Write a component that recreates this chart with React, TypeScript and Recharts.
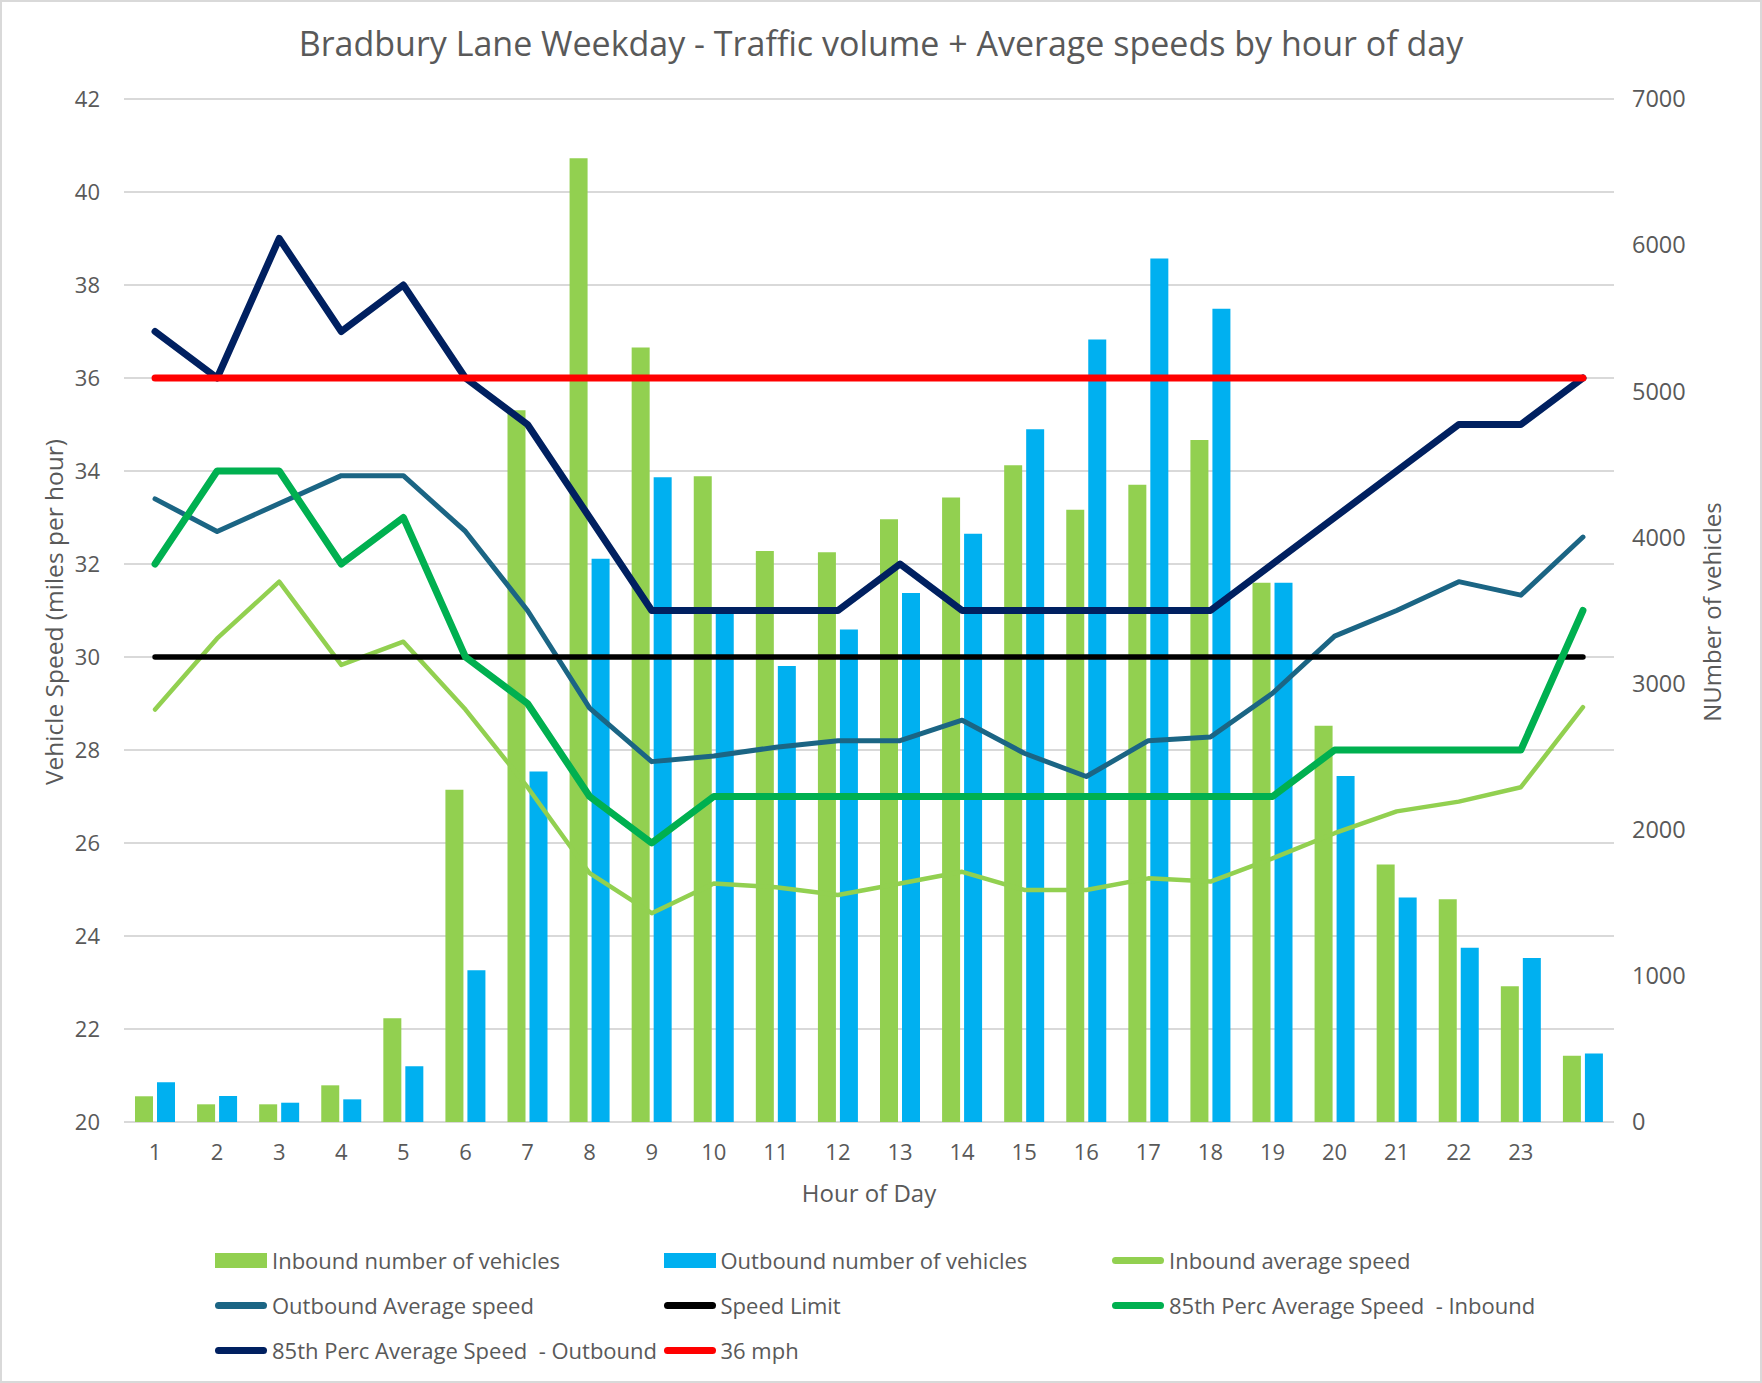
import { ComposedChart, Bar, Line, XAxis, YAxis, CartesianGrid, Label } from "recharts";

const FONT = "'Open Sans', sans-serif";
const TEXT = "#595959";

// hour of day (24th category has no label in the original)
const hours = ["1", "2", "3", "4", "5", "6", "7", "8", "9", "10", "11", "12", "13", "14", "15", "16", "17", "18", "19", "20", "21", "22", "23", ""];

// vehicle counts (right axis)
const inboundVehicles = [176, 121, 121, 251, 710, 2273, 4870, 6594, 5300, 4418, 3907, 3899, 4124, 4274, 4494, 4190, 4360, 4667, 3690, 2712, 1762, 1525, 929, 454];
const outboundVehicles = [272, 178, 132, 155, 381, 1039, 2398, 3854, 4412, 3490, 3121, 3370, 3619, 4025, 4740, 5355, 5908, 5565, 3690, 2367, 1536, 1192, 1123, 468];

// speeds in mph (left axis)
const inboundAvg = [28.87, 30.4, 31.62, 29.83, 30.33, 28.87, 27.2, 25.35, 24.49, 25.13, 25.05, 24.88, 25.13, 25.38, 24.99, 24.99, 25.24, 25.17, 25.67, 26.21, 26.68, 26.89, 27.2, 28.92];
const outboundAvg = [33.4, 32.7, 33.3, 33.9, 33.9, 32.7, 31.0, 28.9, 27.75, 27.87, 28.06, 28.2, 28.2, 28.64, 27.93, 27.43, 28.2, 28.28, 29.22, 30.45, 31.0, 31.62, 31.33, 32.58];
const speedLimit = [30, 30, 30, 30, 30, 30, 30, 30, 30, 30, 30, 30, 30, 30, 30, 30, 30, 30, 30, 30, 30, 30, 30, 30];
const perc85Inbound = [32, 34, 34, 32, 33, 30, 29, 27, 26, 27, 27, 27, 27, 27, 27, 27, 27, 27, 27, 28, 28, 28, 28, 31];
const perc85Outbound = [37, 36, 39, 37, 38, 36, 35, 33, 31, 31, 31, 31, 32, 31, 31, 31, 31, 31, 32, 33, 34, 35, 35, 36];
const mph36 = [36, 36, 36, 36, 36, 36, 36, 36, 36, 36, 36, 36, 36, 36, 36, 36, 36, 36, 36, 36, 36, 36, 36, 36];

const speedTicks = [20, 22, 24, 26, 28, 30, 32, 34, 36, 38, 40, 42];
const vehicleTicks = [0, 1000, 2000, 3000, 4000, 5000, 6000, 7000];

const data = hours.map((hour, i) => ({
  hour,
  inboundVehicles: inboundVehicles[i],
  outboundVehicles: outboundVehicles[i],
  inboundAvg: inboundAvg[i],
  outboundAvg: outboundAvg[i],
  speedLimit: speedLimit[i],
  perc85Inbound: perc85Inbound[i],
  perc85Outbound: perc85Outbound[i],
  mph36: mph36[i],
}));

// legend rows, same order as Excel lays them out
const legendItems = [
  { name: "Inbound number of vehicles", color: "#92D050", type: "bar" },
  { name: "Outbound number of vehicles", color: "#00B0F0", type: "bar" },
  { name: "Inbound average speed", color: "#92D050", type: "line" },
  { name: "Outbound Average speed", color: "#1B6584", type: "line" },
  { name: "Speed Limit", color: "#000000", type: "line" },
  { name: "85th Perc Average Speed  - Inbound", color: "#00B050", type: "line" },
  { name: "85th Perc Average Speed  - Outbound", color: "#002060", type: "line" },
  { name: "36 mph", color: "#FF0000", type: "line" },
];

function ChartLegend() {
  return (
    <>
      {legendItems.map((item, i) => {
        const col = i % 3;
        const row = Math.floor(i / 3);
        const left = 215 + col * 448.5;
        const top = 1260 + row * 45;
        return (
          <div key={item.name} style={{ position: "absolute", left, top: top - 15, height: 30, display: "flex", alignItems: "center", whiteSpace: "pre" }}>
            {item.type === "bar" ? (
              <div style={{ width: 52, height: 15, background: item.color }} />
            ) : (
              <div style={{ width: 52, height: 7, borderRadius: 4, background: item.color }} />
            )}
            <span style={{ marginLeft: 5, fontFamily: FONT, fontSize: 22, color: TEXT }}>{item.name}</span>
          </div>
        );
      })}
    </>
  );
}

export default function App() {
  const tickStyle = { fill: TEXT, fontSize: 22, fontFamily: FONT };
  const rightTickStyle = { fill: TEXT, fontSize: 23.5, fontFamily: FONT };
  return (
    <div style={{ position: "absolute", top: 0, left: 0, width: 1762, height: 1383, background: "#fff" }}>
      <div style={{ position: "absolute", top: 20, left: 0, width: 1762, textAlign: "center", fontFamily: FONT, fontSize: 34, color: TEXT }}>
        Bradbury Lane Weekday - Traffic volume + Average speeds by hour of day
      </div>
      <ComposedChart width={1762} height={1383} data={data} margin={{ top: 99, right: 0, bottom: 0, left: 0 }} style={{ position: "absolute", top: 0, left: 0 }}>
        <CartesianGrid yAxisId="left" vertical={false} stroke="#D9D9D9" strokeWidth={2} />
        <XAxis dataKey="hour" height={261} axisLine={false} tickLine={false} tickSize={0} tickMargin={22} tick={tickStyle} interval={0}>
          <Label content={() => (
            <text x={869} y={1192} textAnchor="middle" dominantBaseline="central" fill={TEXT} fontSize={24} fontFamily={FONT}>Hour of Day</text>
          )} />
        </XAxis>
        <YAxis yAxisId="left" orientation="left" width={124} domain={[20, 42]} ticks={speedTicks} axisLine={false} tickLine={false} tickSize={0} tickMargin={24} tick={tickStyle} allowDataOverflow>
          <Label content={() => (
            <text x={53} y={612} transform="rotate(-90 53 612)" textAnchor="middle" dominantBaseline="central" fill={TEXT} fontSize={24.5} fontFamily={FONT}>Vehicle Speed (miles per hour)</text>
          )} />
        </YAxis>
        <YAxis yAxisId="right" orientation="right" width={148} domain={[0, 7000]} ticks={vehicleTicks} axisLine={false} tickLine={false} tickSize={0} tickMargin={18} tick={rightTickStyle} allowDataOverflow>
          <Label content={() => (
            <text x={1711} y={612} transform="rotate(-90 1711 612)" textAnchor="middle" dominantBaseline="central" fill={TEXT} fontSize={24} fontFamily={FONT}>NUmber of vehicles</text>
          )} />
        </YAxis>
        <Bar yAxisId="right" dataKey="inboundVehicles" name="Inbound number of vehicles" fill="#92D050" barSize={18} isAnimationActive={false} />
        <Bar yAxisId="right" dataKey="outboundVehicles" name="Outbound number of vehicles" fill="#00B0F0" barSize={18} isAnimationActive={false} />
        <Line yAxisId="left" type="linear" dataKey="inboundAvg" name="Inbound average speed" stroke="#92D050" strokeWidth={4.5} dot={false} activeDot={false} strokeLinecap="round" strokeLinejoin="round" isAnimationActive={false} />
        <Line yAxisId="left" type="linear" dataKey="outboundAvg" name="Outbound Average speed" stroke="#1B6584" strokeWidth={5} dot={false} activeDot={false} strokeLinecap="round" strokeLinejoin="round" isAnimationActive={false} />
        <Line yAxisId="left" type="linear" dataKey="speedLimit" name="Speed Limit" stroke="#000000" strokeWidth={5.5} dot={false} activeDot={false} strokeLinecap="round" strokeLinejoin="round" isAnimationActive={false} />
        <Line yAxisId="left" type="linear" dataKey="perc85Inbound" name="85th Perc Average Speed  - Inbound" stroke="#00B050" strokeWidth={7} dot={false} activeDot={false} strokeLinecap="round" strokeLinejoin="round" isAnimationActive={false} />
        <Line yAxisId="left" type="linear" dataKey="perc85Outbound" name="85th Perc Average Speed  - Outbound" stroke="#002060" strokeWidth={7} dot={false} activeDot={false} strokeLinecap="round" strokeLinejoin="round" isAnimationActive={false} />
        <Line yAxisId="left" type="linear" dataKey="mph36" name="36 mph" stroke="#FF0000" strokeWidth={7} dot={false} activeDot={false} strokeLinecap="round" strokeLinejoin="round" isAnimationActive={false} />
      </ComposedChart>
      <ChartLegend />
      <div style={{ position: "absolute", top: 0, left: 0, width: 1762, height: 1383, boxSizing: "border-box", border: "2px solid #D9D9D9", pointerEvents: "none" }} />
    </div>
  );
}
